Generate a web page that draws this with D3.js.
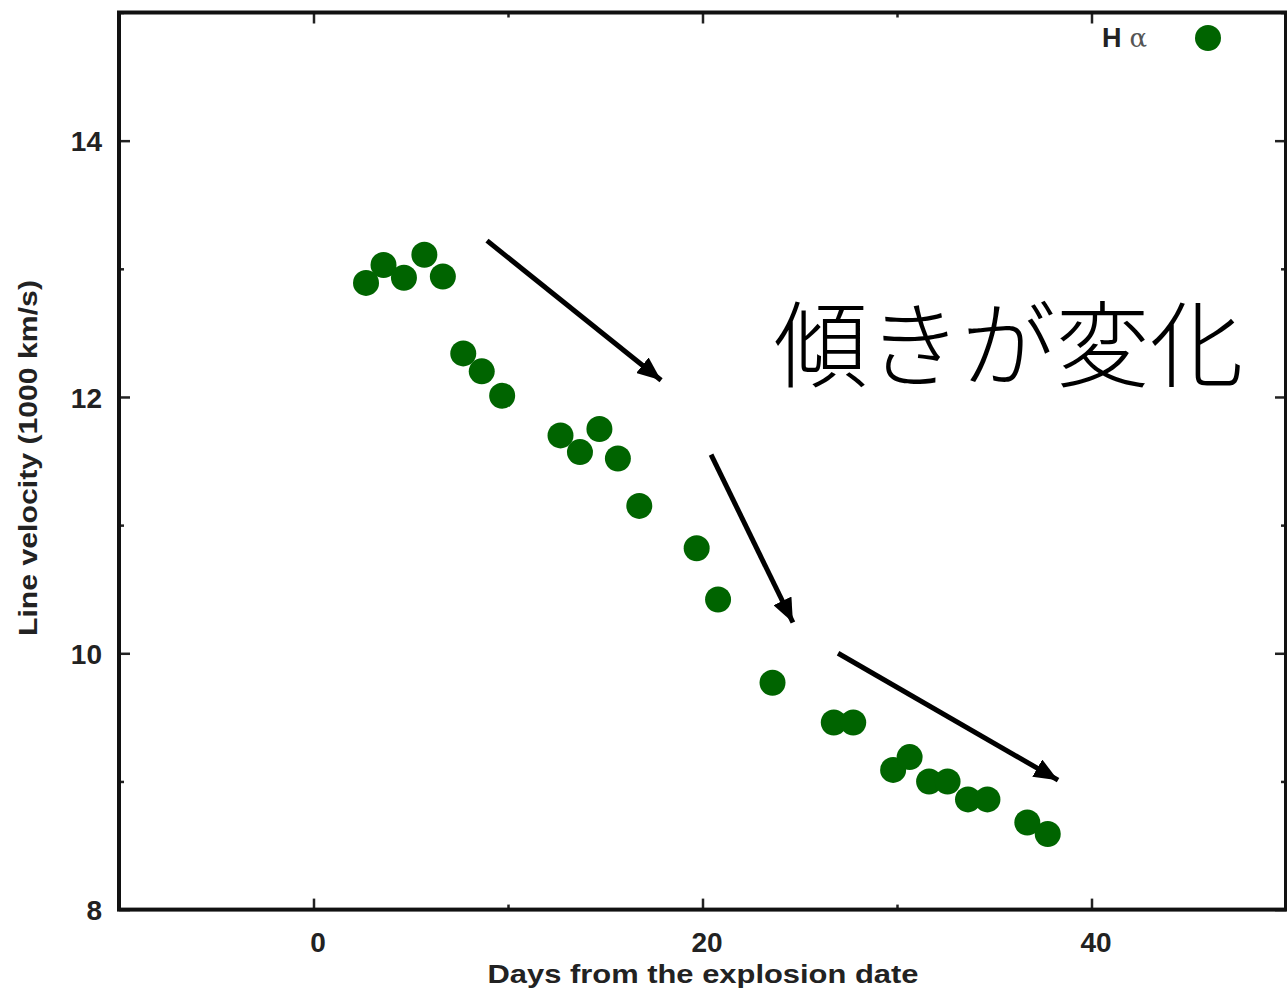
<!DOCTYPE html>
<html>
<head>
<meta charset="utf-8">
<script src="https://cdn.jsdelivr.net/npm/d3@7"></script>
<style>
  html, body { margin: 0; padding: 0; background: #fff; }
  svg { display: block; }
</style>
</head>
<body>
<svg id="chart" width="1287" height="990"></svg>
<script>
// H-alpha line velocity measurements (days after explosion, 1000 km/s)
const days = [2.7, 3.6, 4.65, 5.7, 6.65, 7.7, 8.65, 9.7, 12.7, 13.7, 14.7, 15.65, 16.75,
              19.7, 20.8, 23.6, 26.75, 27.75, 29.8, 30.65, 31.65, 32.6, 33.65, 34.65, 36.7, 37.75];
const velocity = [12.89, 13.03, 12.93, 13.11, 12.94, 12.34, 12.20, 12.01, 11.70, 11.57, 11.75, 11.52, 11.15,
                  10.82, 10.42, 9.77, 9.46, 9.46, 9.09, 9.19, 9.00, 9.00, 8.86, 8.86, 8.68, 8.59];

const xMajorTicks = [0, 20, 40];
const xMinorTicks = [-10, 10, 30, 50];
const yMajorTicks = [8, 10, 12, 14];
const yMinorTicks = [9, 11, 13, 15];

// Trend arrows: [startDay, startVel, endDay, endVel]
const arrows = [
  [8.92, 13.22, 17.87, 12.13],
  [20.44, 11.55, 24.65, 10.24],
  [26.97, 10.00, 38.28, 9.01]
];
const annotation = { text: "傾きが変化", day: 23.65, vel: 12.13 };
const seriesName = "H";

const svg = d3.select("#chart");
const W = 1287, H = 990;
const plot = { left: 119, right: 1286, top: 12.5, bottom: 909.6 };

const x = d3.scaleLinear().domain([-10, 50]).range([plot.left, plot.right]);
const y = d3.scaleLinear().domain([8, 15]).range([plot.bottom, plot.top]);

svg.append("rect").attr("width", W).attr("height", H).attr("fill", "#fff");

const tickFont = "'Liberation Sans', Arial, Helvetica, sans-serif";

// inward ticks on all four sides
const g = svg.append("g");
function ticks(axisGen, scale, vals, len, transform) {
  const a = g.append("g").attr("transform", transform)
    .call(axisGen(scale).tickValues(vals).tickSize(len).tickFormat(""));
  a.select(".domain").remove();
  a.selectAll("line").attr("stroke", "#222").attr("stroke-width", 2.5);
}
ticks(d3.axisTop, x, xMajorTicks, 11, `translate(0,${plot.bottom})`);
ticks(d3.axisTop, x, xMinorTicks, 5, `translate(0,${plot.bottom})`);
ticks(d3.axisBottom, x, xMajorTicks, 11, `translate(0,${plot.top})`);
ticks(d3.axisBottom, x, xMinorTicks, 5, `translate(0,${plot.top})`);
ticks(d3.axisRight, y, yMajorTicks, 11, `translate(${plot.left},0)`);
ticks(d3.axisRight, y, yMinorTicks, 5, `translate(${plot.left},0)`);
ticks(d3.axisLeft, y, yMajorTicks, 11, `translate(${plot.right},0)`);
ticks(d3.axisLeft, y, yMinorTicks, 5, `translate(${plot.right},0)`);

// tick labels
const xLab = svg.append("g").attr("transform", `translate(0,${plot.bottom})`)
  .call(d3.axisBottom(x).tickValues(xMajorTicks).tickFormat(d3.format("d")).tickSize(0).tickPadding(0));
xLab.select(".domain").remove();
xLab.selectAll("text")
  .attr("dy", null).attr("y", 42).attr("x", 4)
  .attr("font-family", tickFont).attr("font-weight", "bold").attr("font-size", 28).attr("fill", "#222");

const yLab = svg.append("g").attr("transform", `translate(${plot.left},0)`)
  .call(d3.axisLeft(y).tickValues(yMajorTicks).tickFormat(d3.format("d")).tickSize(0).tickPadding(0));
yLab.select(".domain").remove();
yLab.selectAll("text")
  .attr("x", -17).attr("dy", "0.36em")
  .attr("font-family", tickFont).attr("font-weight", "bold").attr("font-size", 28).attr("fill", "#222");

// frame
svg.append("rect")
  .attr("x", plot.left).attr("y", plot.top)
  .attr("width", plot.right - plot.left).attr("height", plot.bottom - plot.top)
  .attr("fill", "none").attr("stroke", "#111").attr("stroke-width", 4);

// axis titles
svg.append("text")
  .attr("x", 703).attr("y", 983)
  .attr("text-anchor", "middle")
  .attr("font-family", tickFont).attr("font-weight", "bold").attr("font-size", 25)
  .attr("fill", "#222")
  .attr("textLength", 431).attr("lengthAdjust", "spacingAndGlyphs")
  .text("Days from the explosion date");

svg.append("text")
  .attr("transform", "translate(37,458) rotate(-90)")
  .attr("text-anchor", "middle")
  .attr("font-family", tickFont).attr("font-weight", "bold").attr("font-size", 25)
  .attr("fill", "#222")
  .attr("textLength", 356).attr("lengthAdjust", "spacingAndGlyphs")
  .text("Line velocity (1000 km/s)");

// data points
const green = "#006400";
svg.append("g").selectAll("circle")
  .data(days.map((d, i) => ({ d, v: velocity[i] })))
  .join("circle")
  .attr("cx", p => x(p.d))
  .attr("cy", p => y(p.v))
  .attr("r", 13)
  .attr("fill", green);

// legend
const legend = svg.append("g");
const legText = legend.append("text")
  .attr("x", 1147).attr("y", 47)
  .attr("text-anchor", "end")
  .attr("font-family", tickFont).attr("font-size", 27).attr("fill", "#222");
legText.append("tspan").attr("font-weight", "bold").text(seriesName);
legText.append("tspan").attr("dx", 8).attr("font-family", "'DejaVu Serif', serif")
  .attr("font-size", 26).attr("fill", "#555").text("α");
legend.append("circle").attr("cx", 1208).attr("cy", 38).attr("r", 13).attr("fill", green);

// trend arrows
svg.append("defs").append("marker")
  .attr("id", "head")
  .attr("markerUnits", "userSpaceOnUse")
  .attr("viewBox", "0 0 24 20")
  .attr("refX", 24).attr("refY", 10)
  .attr("markerWidth", 24).attr("markerHeight", 20)
  .attr("orient", "auto")
  .append("path").attr("d", "M0,0 L24,10 L0,20 Z").attr("fill", "#000");

svg.append("g").selectAll("line")
  .data(arrows)
  .join("line")
  .attr("x1", a => x(a[0])).attr("y1", a => y(a[1]))
  .attr("x2", a => x(a[2])).attr("y2", a => y(a[3]))
  .attr("stroke", "#000").attr("stroke-width", 5)
  .attr("marker-end", "url(#head)");

// annotation
svg.append("text")
  .attr("x", x(annotation.day)).attr("y", y(annotation.vel))
  .attr("font-family", "'Noto Sans CJK JP', sans-serif")
  .attr("font-weight", 300)
  .attr("font-size", 94)
  .attr("fill", "#000")
  .text(annotation.text);
</script>
</body>
</html>
